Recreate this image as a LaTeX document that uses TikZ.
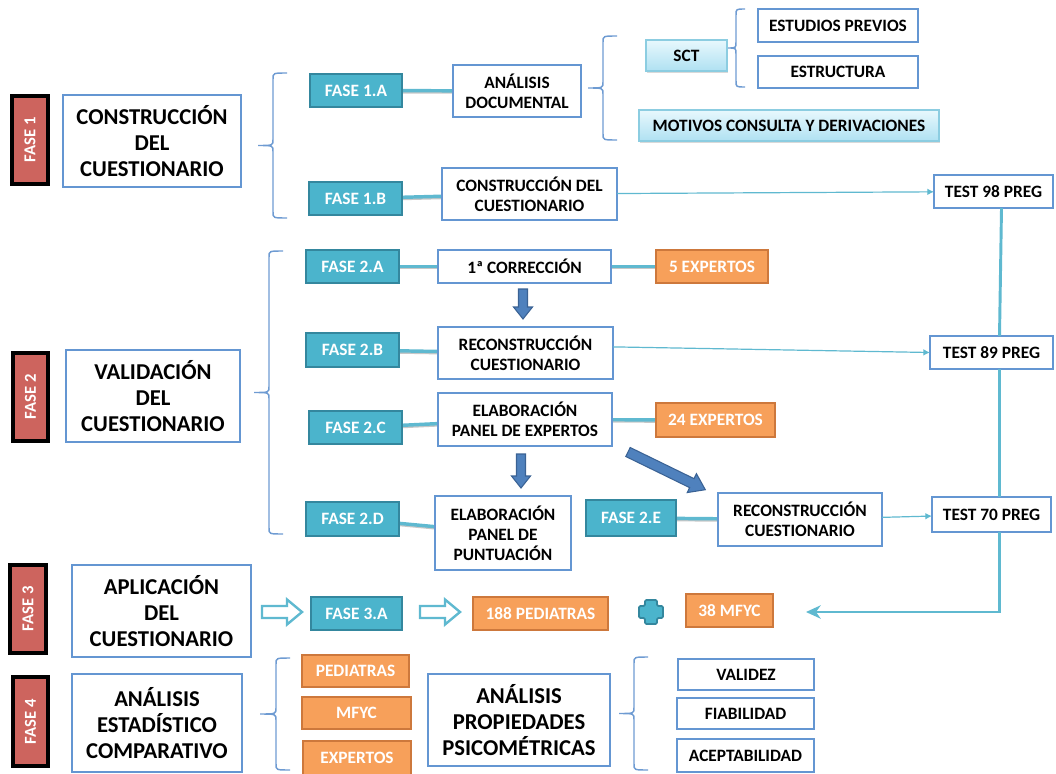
\documentclass[tikz,border=0pt]{standalone}
\usepackage{fontspec}
\setmainfont{Carlito}
\usetikzlibrary{shadows,arrows.meta,calc}

\definecolor{phasered}{RGB}{205,100,94}
\definecolor{tealfill}{RGB}{75,180,204}
\definecolor{tealedge}{RGB}{52,135,158}
\definecolor{orangefill}{RGB}{247,160,90}
\definecolor{orangeedge}{RGB}{205,120,60}
\definecolor{boxblue}{RGB}{100,150,210}
\definecolor{cyantop}{RGB}{232,248,253}
\definecolor{cyanbot}{RGB}{175,225,242}
\definecolor{cyanedge}{RGB}{140,205,225}
\definecolor{linkteal}{RGB}{95,185,208}
\definecolor{arrowblue}{RGB}{79,129,189}
\definecolor{arrowedge}{RGB}{58,98,148}
\definecolor{bracecol}{RGB}{110,155,210}

\pgfdeclarelayer{bg}
\pgfsetlayers{bg,main}

\tikzset{
  base/.style={rectangle, inner sep=0pt, outer sep=0pt, align=center,
    font=\bfseries\fontsize{13}{15}\selectfont},
  phasebox/.style={base, fill=phasered, draw=black, line width=2.4pt, text=white,
    font=\bfseries\fontsize{12.5}{15}\selectfont,
    drop shadow={shadow xshift=1pt, shadow yshift=-1pt, opacity=0.35}},
  mainbox/.style={base, fill=white, draw=boxblue, line width=1.8pt,
    font=\bfseries\fontsize{17}{19.5}\selectfont},
  whitebox/.style={base, fill=white, draw=boxblue, line width=1.6pt},
  fasebox/.style={base, fill=tealfill, draw=tealedge, line width=1.3pt, text=white,
    drop shadow={shadow xshift=0.8pt, shadow yshift=-0.8pt, opacity=0.3}},
  orangebox/.style={base, fill=orangefill, draw=orangeedge, line width=1pt, text=white,
    drop shadow={shadow xshift=0.8pt, shadow yshift=-0.8pt, opacity=0.3}},
  cyanbox/.style={base, top color=cyantop, bottom color=cyanbot, draw=cyanedge, line width=1pt,
    drop shadow={shadow xshift=1pt, shadow yshift=-1.2pt, opacity=0.3}},
  link/.style={draw=linkteal, line width=2.6pt,
    preaction={draw=black!22, line width=2.6pt, transform canvas={shift={(0.5pt,-0.9pt)}}}},
  thinlink/.style={draw=linkteal, line width=0.9pt, -{Latex[length=5pt,width=5pt]}},
  vline/.style={draw=linkteal, line width=2.2pt},
  bracestyle/.style={draw=bracecol, line width=1.1pt},
  blockarrow/.style={fill=arrowblue, draw=arrowedge, line width=0.8pt, line join=miter},
  hollowarrow/.style={fill=white, draw=linkteal, line width=1.8pt, line join=miter},
  plusstyle/.style={fill=tealfill, draw=tealedge, line width=1.3pt, rounded corners=1pt},
}

% box from its corners in pixel units
\newcommand\bx[7]{\node[#1, minimum width={(#5-(#3))*0.75pt}, minimum height={(#6-(#4))*0.75pt}]
  (#2) at ({(#3+#5)/2},{(#4+#6)/2}) {#7};}
% upright red phase label
\newcommand\phase[6]{\node[phasebox, minimum width={(#4-(#2))*0.75pt}, minimum height={(#5-(#3))*0.75pt}]
  (#1) at ({(#2+#4)/2},{(#3+#5)/2}) {\rotatebox{90}{#6}};}
% curly brace: tip x, spine x, end x, top y, bottom y
\newcommand\curly[5]{\draw[bracestyle] (#3,#4) .. controls (#2,#4) .. (#2,{#4+6})
  -- (#2,{(#4+#5)/2-6}) .. controls (#2,{(#4+#5)/2}) .. (#1,{(#4+#5)/2})
  .. controls (#2,{(#4+#5)/2}) .. (#2,{(#4+#5)/2+6})
  -- (#2,{#5-6}) .. controls (#2,#5) .. (#3,#5);}
% block arrow: style, tail x, tail y, angle, length, shaft half, head half, head length
\newcommand\blkarrow[8]{\begin{scope}[shift={(#2,#3)},rotate=#4]
  \draw[#1] (0,{-#6}) -- ({#5-#8},{-#6}) -- ({#5-#8},{-#7}) -- (#5,0)
    -- ({#5-#8},{#7}) -- ({#5-#8},{#6}) -- (0,{#6}) -- cycle;
  \end{scope}}

\begin{document}
\begin{tikzpicture}[x=0.75pt,y=-0.75pt]
\useasboundingbox (0,0) rectangle (1056,774);

% phase labels
\phase{p1}{12}{96}{48}{184}{FASE 1}
\phase{p2}{13}{353}{48}{441}{FASE 2}
\phase{p3}{10}{565}{46}{653}{FASE 3}
\phase{p4}{13}{677}{48}{766}{FASE 4}

% main stage boxes
\bx{mainbox}{m1}{63}{95}{241}{187}{CONSTRUCCIÓN\\DEL\\CUESTIONARIO}
\bx{mainbox}{m2}{66}{350}{240}{442}{VALIDACIÓN\\DEL\\CUESTIONARIO}
\bx{mainbox}{m3}{72}{565}{251}{657}{APLICACIÓN\\DEL\\CUESTIONARIO}
\bx{mainbox}{m4}{72}{674}{242}{772}{ANÁLISIS\\ESTADÍSTICO\\COMPARATIVO}
\bx{mainbox}{m5}{428}{674}{610}{766}{ANÁLISIS\\PROPIEDADES\\PSICOMÉTRICAS}

% sub-phase boxes
\bx{fasebox}{f1a}{310}{74}{402}{107}{FASE 1.A}
\bx{fasebox}{f1b}{309}{182}{402}{215}{FASE 1.B}
\bx{fasebox}{f2a}{306}{250}{399}{283}{FASE 2.A}
\bx{fasebox}{f2b}{306}{333}{399}{367}{FASE 2.B}
\bx{fasebox}{f2c}{309}{411}{402}{444}{FASE 2.C}
\bx{fasebox}{f2d}{306}{502}{399}{536}{FASE 2.D}
\bx{fasebox}{f2e}{586}{500}{676}{536}{FASE 2.E}
\bx{fasebox}{f3a}{311}{597}{402}{630}{FASE 3.A}

% task boxes
\bx{whitebox}{ad}{453}{65}{581}{117}{ANÁLISIS\\DOCUMENTAL}
\bx{whitebox}{cc}{442}{168}{617}{220}{CONSTRUCCIÓN DEL\\CUESTIONARIO}
\bx{whitebox}{c1}{438}{250}{611}{283}{1ª CORRECCIÓN}
\bx{whitebox}{r2b}{438}{327}{613}{379}{RECONSTRUCCIÓN\\CUESTIONARIO}
\bx{whitebox}{ep}{438}{393}{612}{446}{ELABORACIÓN\\PANEL DE EXPERTOS}
\bx{whitebox}{pp}{435}{496}{571}{570}{ELABORACIÓN\\PANEL DE\\PUNTUACIÓN}
\bx{whitebox}{r2e}{718}{493}{882}{546}{RECONSTRUCCIÓN\\CUESTIONARIO}
\bx{whitebox}{t98}{934}{175}{1053}{208}{TEST 98 PREG}
\bx{whitebox}{t89}{930}{336}{1053}{369}{TEST 89 PREG}
\bx{whitebox}{t70}{932}{497}{1051}{532}{TEST 70 PREG}
\bx{whitebox}{sp}{758}{9}{918}{42}{ESTUDIOS PREVIOS}
\bx{whitebox}{es}{758}{56}{918}{88}{ESTRUCTURA}
\bx{whitebox}{va}{678}{659}{814}{690}{VALIDEZ}
\bx{whitebox}{fi}{677}{698}{814}{729}{FIABILIDAD}
\bx{whitebox}{ac}{677}{739}{814}{772}{ACEPTABILIDAD}

% samples
\bx{orangebox}{e5}{656}{250}{768}{283}{5 EXPERTOS}
\bx{orangebox}{e24}{656}{403}{775}{437}{24 EXPERTOS}
\bx{orangebox}{p188}{473}{597}{608}{630}{188 PEDIATRAS}
\bx{orangebox}{m38}{686}{594}{773}{627}{38 MFYC}
\bx{orangebox}{ped}{302}{655}{409}{687}{PEDIATRAS}
\bx{orangebox}{mfyc}{302}{697}{411}{729}{MFYC}
\bx{orangebox}{exq}{303}{741}{411}{795}{EXPERTOS\\\mbox{}}

% document sources
\bx{cyanbox}{sct}{646}{40}{727}{71}{SCT}
\bx{cyanbox}{mot}{639}{110}{939}{141}{MOTIVOS CONSULTA Y DERIVACIONES}

% braces
\curly{258}{273}{287}{73}{218}
\curly{254}{269}{283}{251}{534}
\curly{588}{603}{617}{36}{140}
\curly{728}{736}{745}{9}{87}
\curly{260}{276}{290}{658}{770}
\curly{619}{634}{648}{657}{770}

% thick connectors
\begin{pgfonlayer}{bg}
\draw[link] (f1a) -- (ad);
\draw[link] (f1b) -- (cc);
\draw[link] (f2a) -- (c1);
\draw[link] (c1) -- (e5);
\draw[link] (f2b) -- (r2b);
\draw[link] (f2c) -- (ep);
\draw[link] (ep) -- (e24);
\draw[link] (f2d) -- (pp);
\draw[link] (f2e) -- (r2e);
\end{pgfonlayer}

% thin arrows to the test versions
\draw[thinlink] (cc) -- (t98);
\draw[thinlink] (r2b.4) -- (t89.west);
\draw[thinlink] (r2e) -- (t70);

% test chain down to the sample
\coordinate (mend) at (806,612);
\draw[vline] ($(t98.south)+(8,0)$) -- ($(t89.north)+(8,0)$);
\draw[vline] ($(t89.south)+(8,0)$) -- ($(t70.north)+(8,0)$);
\draw[vline, -{Stealth[length=11pt,width=10pt,inset=3.5pt]}]
  ($(t70.south)+(8,0)$) |- (mend);

% block arrows
\blkarrow{blockarrow}{523}{289}{-90}{30}{4.5}{9.5}{12}
\blkarrow{blockarrow}{521}{454}{-90}{34}{4.5}{9.5}{12}
\blkarrow{blockarrow}{628}{452}{-26}{86}{5}{10.5}{15}
\blkarrow{hollowarrow}{262}{612}{0}{40}{6}{12.5}{15}
\blkarrow{hollowarrow}{420}{612}{0}{40}{6}{12.5}{15}

% plus sign
\draw[plusstyle] (645,600) -- (657,600) -- (657,606) -- (663,606) -- (663,618) -- (657,618)
  -- (657,624) -- (645,624) -- (645,618) -- (639,618) -- (639,606) -- (645,606) -- cycle;

\end{tikzpicture}
\end{document}
